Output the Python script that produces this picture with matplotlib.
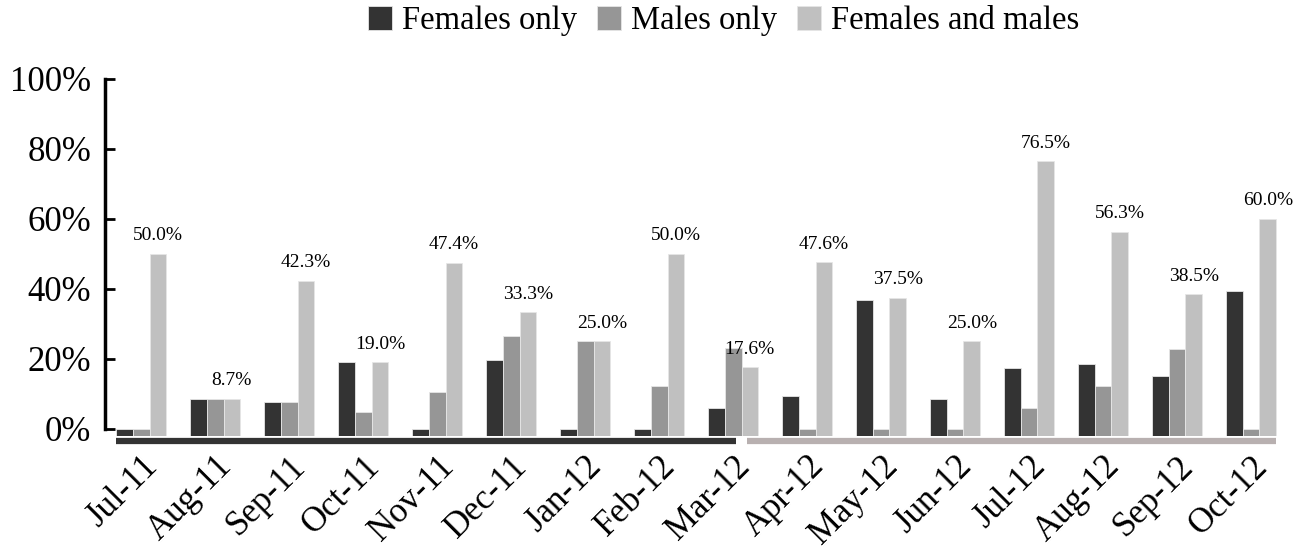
import matplotlib
matplotlib.use("Agg")
import matplotlib.pyplot as plt
import numpy as np

months = ["Jul-11", "Aug-11", "Sep-11", "Oct-11", "Nov-11", "Dec-11", "Jan-12", "Feb-12",
          "Mar-12", "Apr-12", "May-12", "Jun-12", "Jul-12", "Aug-12", "Sep-12", "Oct-12"]
females_only = [0, 8.7, 7.8, 19.0, 0, 19.7, 0, 0, 5.9, 9.4, 36.9, 8.5, 17.5, 18.6, 15.0, 39.3]
males_only = [0, 8.7, 7.7, 4.9, 10.5, 26.5, 25.0, 12.3, 23.2, 0, 0, 0, 5.9, 12.3, 22.9, 0]
females_and_males = [50.0, 8.7, 42.3, 19.0, 47.4, 33.3, 25.0, 50.0, 17.6, 47.6, 37.5, 25.0,
                     76.5, 56.3, 38.5, 60.0]
series_names = ["Females only", "Males only", "Females and males"]
colors = ["#333333", "#969696", "#c0c0c0"]
yticks = [0, 20, 40, 60, 80, 100]
ytick_labels = ["0%", "20%", "40%", "60%", "80%", "100%"]
period1_end = 8   # Jul-11 .. Mar-12
period_colors = ["#333333", "#b8b0b0"]

plt.rcParams['font.family'] = ['Liberation Serif', 'DejaVu Serif']

fig = plt.figure(figsize=(13.04, 5.5), dpi=100)
ax = fig.add_axes([0.0805, 0.2073, 0.985 - 0.0805, 0.8564 - 0.2073])

ymin = -2.0
x = np.arange(len(months))
w = 0.225
series = [females_only, males_only, females_and_males]
handles = []
for i, (vals, c, name) in enumerate(zip(series, colors, series_names)):
    vals = np.array(vals)
    b = ax.bar(x + (i - 1) * w, vals - ymin, bottom=ymin, width=w, color=c,
               edgecolor="#e6e6e6", linewidth=0.6, label=name)
    handles.append(b)

for xi, v in zip(x, females_and_males):
    ax.annotate(f"{v:.1f}%", (xi + w, v), xytext=(0, 7), textcoords="offset points",
                ha="center", va="bottom", fontsize=14)

ax.set_xlim(-0.49, 15.45)
ax.set_ylim(ymin, 100)
ax.set_yticks(yticks)
ax.set_yticklabels(ytick_labels, fontsize=25)
ax.set_xticks(x)
ax.set_xticklabels(months, rotation=45, ha="right", rotation_mode="anchor", fontsize=25)
ax.tick_params(axis="x", length=0, pad=10)
ax.tick_params(axis="y", direction="in", length=7, width=2, pad=10)
for s in ["top", "right", "bottom"]:
    ax.spines[s].set_visible(False)
ax.spines["left"].set_linewidth(2.5)
ax.spines["left"].set_bounds(0, 100)

trans = ax.get_xaxis_transform()
ax.plot([x[0] - 1.5 * w, x[period1_end] + 0.04], [-0.015, -0.015], color=period_colors[0],
        lw=4.5, transform=trans, clip_on=False, solid_capstyle="butt")
ax.plot([x[period1_end] + 0.19, x[-1] + 1.5 * w], [-0.015, -0.015], color=period_colors[1],
        lw=4.5, transform=trans, clip_on=False, solid_capstyle="butt")

fig.legend(handles=handles, labels=series_names, loc="center", bbox_to_anchor=(0.555, 0.962),
           ncol=3, frameon=False, fontsize=23.5, handlelength=0.75, handleheight=0.75,
           handletextpad=0.3, columnspacing=0.6, borderaxespad=0)

fig.savefig("out.png", dpi=100)
